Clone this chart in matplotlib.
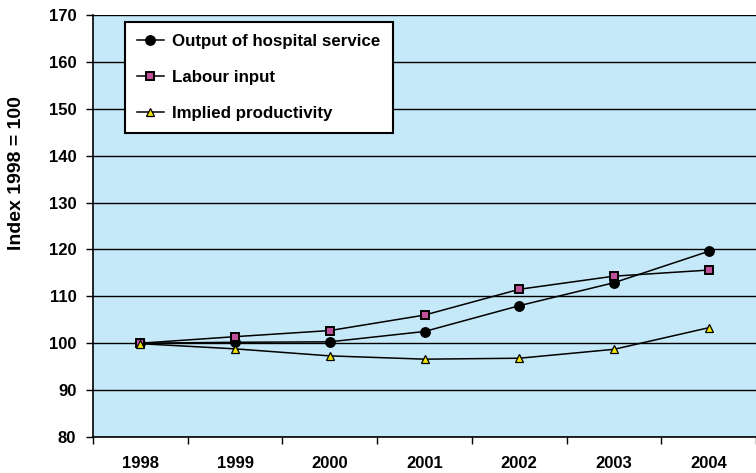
import matplotlib
matplotlib.use("Agg")
import matplotlib.pyplot as plt
import numpy as np

years = ["1998", "1999", "2000", "2001", "2002", "2003", "2004"]
output_hospital = [100.0, 100.2, 100.3, 102.5, 108.0, 112.9, 119.6]
labour_input = [100.0, 101.4, 102.7, 106.0, 111.5, 114.3, 115.6]
implied_productivity = [99.9, 98.8, 97.3, 96.6, 96.8, 98.7, 103.3]
y_ticks = [80, 90, 100, 110, 120, 130, 140, 150, 160, 170]

plt.rcParams['font.family'] = ['Liberation Sans', 'DejaVu Sans']
plt.rcParams['font.weight'] = 'bold'

fig = plt.figure(figsize=(7.56, 4.73), dpi=100)
W, H = 756, 473
ax = fig.add_axes([93 / W, 1 - 437 / H, (756 - 93) / W, (437 - 15) / H])
ax.set_facecolor('#C6E9F9')

x = np.arange(len(years))
ax.plot(x, output_hospital, color='black', lw=1.1, marker='o', ms=6.8,
        mfc='black', mec='black', label='Output of hospital service', zorder=4)
ax.plot(x, labour_input, color='black', lw=1.1, marker='s', ms=5.3,
        mfc='#C0509A', mec='black', mew=1.4, label='Labour input', zorder=4)
ax.plot(x, implied_productivity, color='black', lw=1.1, marker='^', ms=5.3,
        mfc='#F2E600', mec='black', mew=0.9, label='Implied productivity', zorder=4)

ax.set_ylim(80, 170)
ax.set_yticks(y_ticks)
ax.yaxis.grid(True, color='black', lw=1.0)
ax.set_axisbelow(True)

ax.set_xlim(-0.5, 6.44)
ax.set_xticks(np.arange(-0.5, 7.0, 1.0))
ax.set_xticklabels([])
ax.set_xticks(x, minor=True)
ax.set_xticklabels(years, minor=True)
ax.tick_params(axis='x', which='major', direction='out', length=5, width=1, color='black')
ax.tick_params(axis='x', which='minor', length=0, pad=14, labelsize=12)
ax.tick_params(axis='y', direction='out', length=5, width=1, labelsize=12, pad=7)
for lbl in ax.get_xticklabels(minor=True) + ax.get_yticklabels():
    lbl.set_fontweight('bold')

for side in ['top', 'right']:
    ax.spines[side].set_visible(False)
ax.spines['left'].set_linewidth(1.2)
ax.spines['bottom'].set_linewidth(1.2)

fig.text(17 / W, 1 - 173 / H, 'Index 1998 = 100', rotation=90, ha='center', va='center',
         fontsize=14, fontweight='bold')

leg = ax.legend(loc='upper left', bbox_to_anchor=((125 - 93) / (756 - 93), 1 - (22 - 15) / 422),
                frameon=True, fancybox=False, edgecolor='black', facecolor='white',
                framealpha=1, fontsize=12.2, handlelength=1.6, labelspacing=1.25,
                borderpad=0.7, handletextpad=0.5, borderaxespad=0)
leg.get_frame().set_linewidth(1.5)
for t in leg.get_texts():
    t.set_fontweight('bold')

fig.savefig('out.png', dpi=100)
